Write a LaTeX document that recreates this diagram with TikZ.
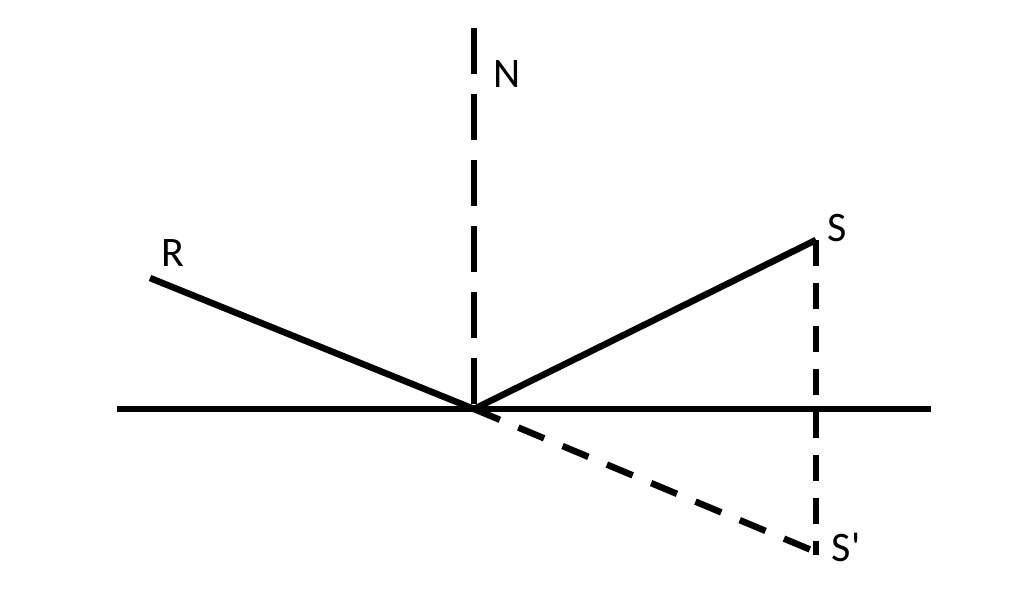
\documentclass[tikz,border=0pt]{standalone}
\usepackage{fontspec}
\newfontfamily\lblfont{Carlito}
\begin{document}
\begin{tikzpicture}[x=1pt,y=-1pt,
  ray/.style={line width=6.5pt},
  ndash/.style={line width=6.5pt,dash pattern=on 46pt off 20pt},
  sdash/.style={line width=6.5pt,dash pattern=on 26pt off 17pt},
  ddash/.style={line width=6.5pt,dash pattern=on 28pt off 20pt},
  lbl/.style={inner sep=0pt,font=\lblfont\fontsize{42}{42}\selectfont}]
\useasboundingbox[fill=white] (0,0) rectangle (1024,605);
\coordinate (L) at (117,409);
\coordinate (Rt) at (931,409);
\coordinate (O) at (474,409);
\coordinate (Ntop) at (474,28);
\coordinate (Nbot) at (474,405);
\coordinate (R) at (150,278);
\coordinate (S) at (816,240);
\coordinate (Sp) at (816,555);
\coordinate (Spd) at (816,552);
\draw[ray] (L) -- (Rt);
\draw[ndash] (Ntop) -- (Nbot);
\draw[ray] (R) -- (O);
\draw[ray] (O) -- (S);
\draw[sdash] (S) -- (Sp);
\draw[ddash] (O) -- (Spd);
\node[lbl] (nN) at (507,74) {N};
\node[lbl] (nR) at (173,253) {R};
\node[lbl] (nS) at (837,228) {S};
\node[lbl] (nSp) at (846,547) {S'};
\end{tikzpicture}
\end{document}
